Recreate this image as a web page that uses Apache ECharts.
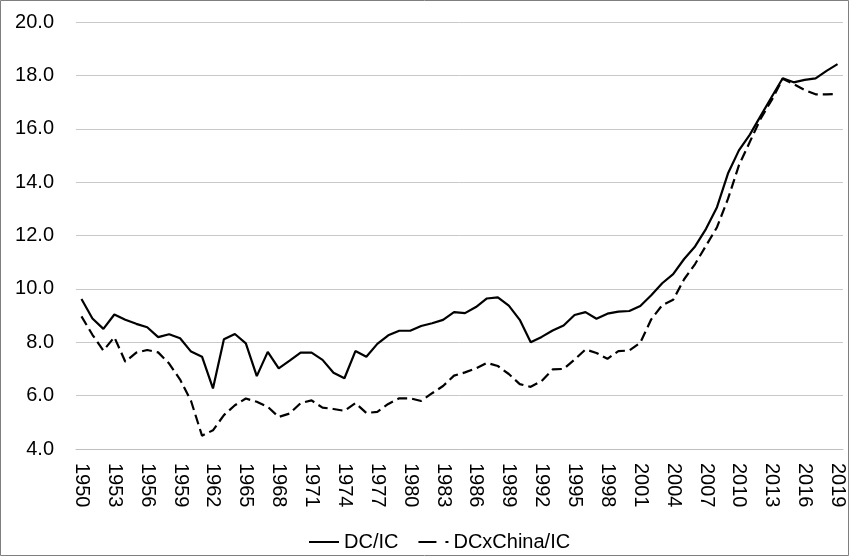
<!DOCTYPE html>
<html>
<head>
<meta charset="utf-8">
<script src="https://cdn.jsdelivr.net/npm/echarts@6/dist/echarts.min.js"></script>
<style>
  html, body { margin: 0; padding: 0; background: #fff; }
  #chart { width: 850px; height: 557px; }
</style>
</head>
<body>
<div id="chart"></div>
<script>
var years = [];
for (var y = 1950; y <= 2019; y++) years.push(String(y));

var dcIc = [
  9.62, 8.89, 8.50, 9.04, 8.84, 8.69, 8.56, 8.19, 8.30, 8.15,
  7.65, 7.46, 6.27, 8.11, 8.31, 7.96, 6.73, 7.64, 7.02, 7.31,
  7.61, 7.61, 7.34, 6.86, 6.65, 7.67, 7.46, 7.94, 8.26, 8.43,
  8.43, 8.61, 8.71, 8.84, 9.13, 9.09, 9.32, 9.64, 9.68, 9.37,
  8.84, 8.00, 8.20, 8.44, 8.63, 9.02, 9.13, 8.88, 9.07, 9.15,
  9.17, 9.36, 9.76, 10.21, 10.55, 11.12, 11.59, 12.25, 13.06, 14.32,
  15.19, 15.78, 16.49, 17.20, 17.89, 17.74, 17.83, 17.89, 18.17, 18.42
];

var dcxChinaIc = [
  8.97, 8.28, 7.69, 8.19, 7.27, 7.61, 7.71, 7.62, 7.20, 6.60,
  5.80, 4.50, 4.70, 5.27, 5.64, 5.89, 5.77, 5.58, 5.20, 5.33,
  5.72, 5.82, 5.55, 5.50, 5.43, 5.72, 5.35, 5.39, 5.69, 5.90,
  5.90, 5.80, 6.09, 6.36, 6.75, 6.87, 7.02, 7.23, 7.11, 6.81,
  6.43, 6.33, 6.55, 6.98, 7.00, 7.35, 7.73, 7.60, 7.38, 7.67,
  7.69, 7.98, 8.86, 9.39, 9.59, 10.36, 10.93, 11.62, 12.31, 13.37,
  14.63, 15.51, 16.39, 17.08, 17.87, 17.67, 17.45, 17.29, 17.29, 17.30
];

var seriesNames = ['DC/IC', 'DCxChina/IC'];

var myChart = echarts.init(document.getElementById('chart'));

var option = {
  animation: false,
  textStyle: { fontFamily: 'Liberation Sans', color: '#000' },
  graphic: [{
    type: 'rect',
    shape: { x: 0.5, y: 0.5, width: 848, height: 555 },
    style: { fill: 'none', stroke: '#7f7f7f', lineWidth: 1 }
  }],
  grid: { left: 76, right: 7, top: 22, bottom: 108 },
  legend: {
    top: 527,
    left: 304,
    itemWidth: 30,
    itemHeight: 2,
    itemGap: 20,
    textStyle: { fontSize: 20, color: '#000' },
    data: [
      { name: seriesNames[0], icon: 'path://M0,0H30V2H0Z' },
      { name: seriesNames[1], icon: 'path://M0,0H18V2H0Z M27,0H30V2H27Z' }
    ]
  },
  xAxis: {
    type: 'category',
    data: years,
    axisLine: { lineStyle: { color: '#bfbfbf' } },
    axisTick: { show: false },
    axisLabel: {
      interval: 2,
      rotate: -90,
      fontSize: 20,
      color: '#000',
      margin: 14
    }
  },
  yAxis: {
    type: 'value',
    min: 4,
    max: 20,
    interval: 2,
    axisLine: { show: false },
    axisTick: { show: false },
    splitLine: { lineStyle: { color: '#c8c8c8' } },
    axisLabel: {
      fontSize: 20,
      color: '#000',
      margin: 22,
      formatter: function (v) { return v.toFixed(1); }
    }
  },
  series: [
    {
      name: seriesNames[0],
      type: 'line',
      data: dcIc,
      symbol: 'none',
      lineStyle: { color: '#000', width: 2.2 },
      itemStyle: { color: '#000' }
    },
    {
      name: seriesNames[1],
      type: 'line',
      data: dcxChinaIc,
      symbol: 'none',
      lineStyle: { color: '#000', width: 2.2, type: [10, 5] },
      itemStyle: { color: '#000' }
    }
  ]
};

myChart.setOption(option);
</script>
</body>
</html>
